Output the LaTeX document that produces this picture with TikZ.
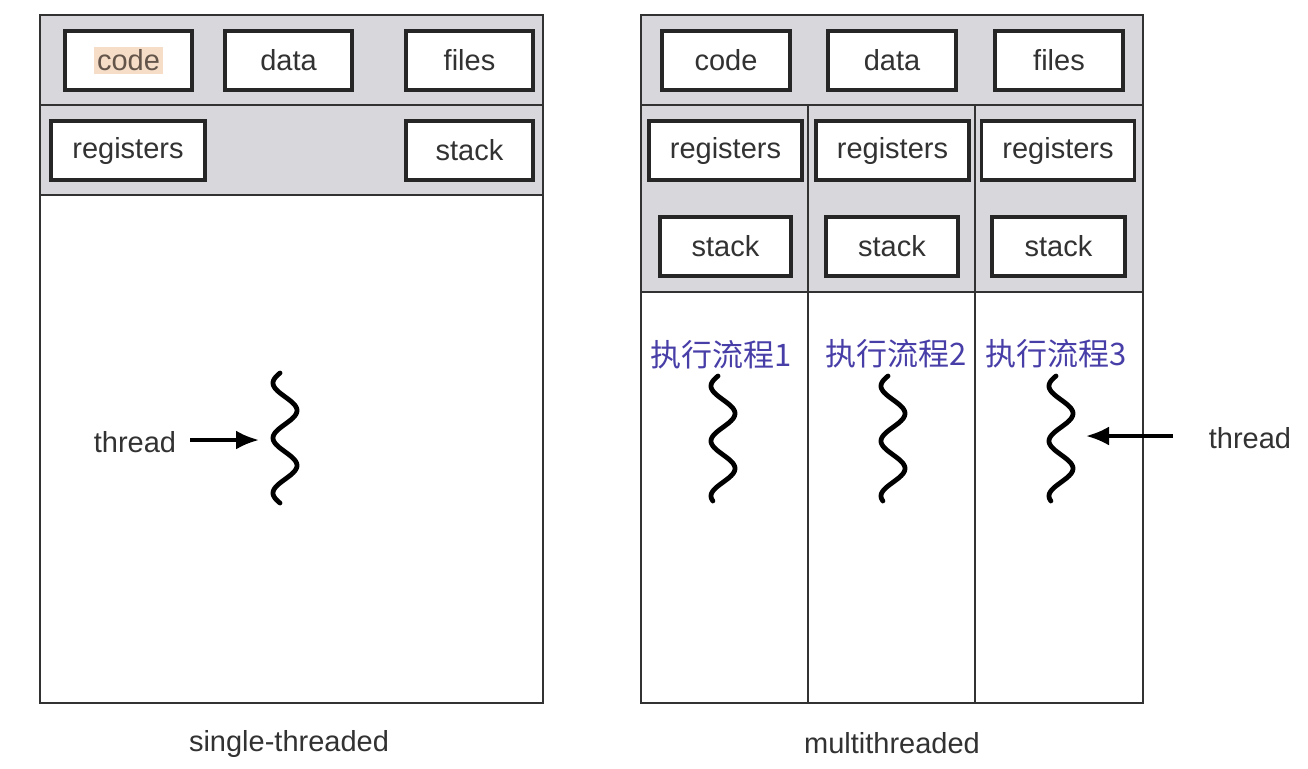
\documentclass[tikz,border=0pt]{standalone}
\usepackage{fontspec}
\setmainfont{Liberation Sans}
\newfontfamily\cjk{Noto Sans CJK SC}
\usetikzlibrary{arrows.meta}
\definecolor{bandgray}{RGB}{216,216,220}
\definecolor{ink}{RGB}{50,50,50}
\definecolor{cnblue}{RGB}{72,62,168}
\definecolor{peach}{RGB}{246,221,200}
\definecolor{codeink}{RGB}{100,85,75}
\begin{document}
\begin{tikzpicture}[x=0.5pt,y=-0.5pt,
  panel/.style={draw=ink, line width=1.2pt},
  box/.style={draw=black!85, line width=1.7pt, fill=white, minimum height=29.5pt, inner sep=0pt, text=ink, font=\fontsize{14.5}{17}\selectfont},
  lbl/.style={text=ink, font=\fontsize{14.5}{17}\selectfont},
  cn/.style={text=cnblue, inner sep=0pt, font=\cjk\fontsize{15.5}{18}\selectfont},
  squig/.style={line width=2.4pt, line cap=round, draw=black},
  arr/.style={-{Latex[length=11.5pt,width=9.5pt]}, line width=1.8pt, draw=black}]
\useasboundingbox[fill=white] (0,0) rectangle (1308,768);

% ---------- left panel ----------
\fill[bandgray] (40,15) rectangle (543,195);
\draw[panel] (40,15) rectangle (543,703);
\draw[panel] (40,105) -- (543,105);
\draw[panel] (40,195) -- (543,195);

\node[box, minimum width=63.5pt] (codeL) at (128.5,60.5) {\setlength\fboxsep{1.5pt}\colorbox{peach}{\textcolor{codeink}{code}}};
\node[box, minimum width=63.5pt] (dataL) at (288.5,60.5) {data};
\node[box, minimum width=63.5pt] (filesL) at (469.5,60.5) {files};
\node[box, minimum width=77pt] (regL) at (128,150.5) {registers};
\node[box, minimum width=63.5pt] (stackL) at (469.5,150.5) {stack};

\draw[squig] plot[domain=373:503,samples=90,smooth] ({285-12*cos(6.545*(\x-383))},\x);
\node[lbl] (thL) at (135,442) {thread};
\coordinate (startL) at (190,440);
\coordinate (tipL) at (259,440);
\draw[arr] (startL) -- (tipL);

\node[lbl] (capL) at (289,744) {single-threaded};

% ---------- right panel ----------
\fill[bandgray] (641,15) rectangle (1143,292);
\draw[panel] (641,15) rectangle (1143,703);
\draw[panel] (641,105) -- (1143,105);
\draw[panel] (641,292) -- (1143,292);
\draw[panel] (808,105) -- (808,703);
\draw[panel] (975,105) -- (975,703);

\node[box, minimum width=64pt] (codeR) at (726,60.5) {code};
\node[box, minimum width=64pt] (dataR) at (892,60.5) {data};
\node[box, minimum width=64pt] (filesR) at (1059,60.5) {files};

\node[box, minimum width=76.5pt] (reg1) at (725.5,150.5) {registers};
\node[box, minimum width=76.5pt] (reg2) at (892.5,150.5) {registers};
\node[box, minimum width=76.5pt] (reg3) at (1058,150.5) {registers};

\node[box, minimum width=65.5pt] (stack1) at (725.5,246.5) {stack};
\node[box, minimum width=66pt] (stack2) at (892,246.5) {stack};
\node[box, minimum width=66.5pt] (stack3) at (1058.5,246.5) {stack};

\node[cn] (flow1) at (721,355) {执行流程1};
\node[cn] (flow2) at (896,354) {执行流程2};
\node[cn] (flow3) at (1056,354) {执行流程3};

\draw[squig] plot[domain=376:501,samples=90,smooth] ({723-12*cos(6.545*(\x-386))},\x);
\draw[squig] plot[domain=376:501,samples=90,smooth] ({893-12*cos(6.545*(\x-386))},\x);
\draw[squig] plot[domain=376:501,samples=90,smooth] ({1061-12*cos(6.545*(\x-386))},\x);

\node[lbl] (thR) at (1250,438) {thread};
\coordinate (startR) at (1173,436);
\coordinate (tipR) at (1086,436);
\draw[arr] (startR) -- (tipR);

\node[lbl] (capR) at (892,743) {multithreaded};
\end{tikzpicture}
\end{document}
